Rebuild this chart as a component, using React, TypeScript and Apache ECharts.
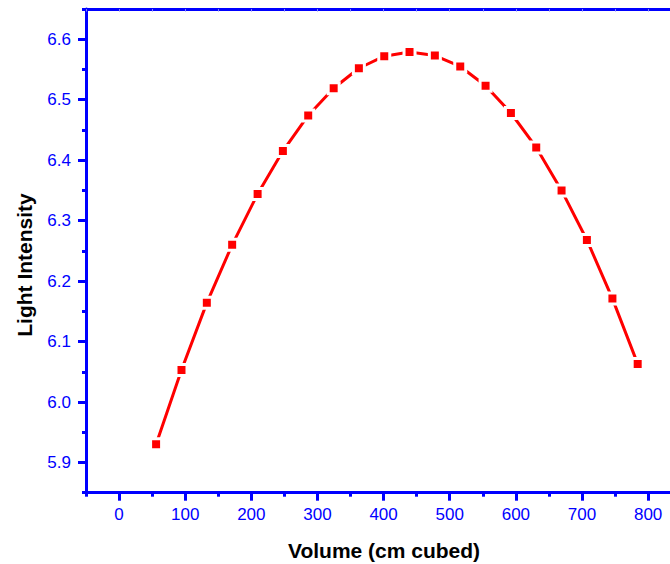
import React, { useEffect, useRef } from "react";
import * as echarts from "echarts";

const volume = [56, 94.4, 132.7, 171, 209.5, 247.7, 286, 324.5, 362.6, 401, 439.2, 477.5, 515.9, 554.2, 592.5, 630.8, 669.1, 707.4, 746, 784.2];
const intensity = [5.930, 6.053, 6.164, 6.260, 6.344, 6.415, 6.474, 6.519, 6.552, 6.572, 6.579, 6.573, 6.555, 6.523, 6.478, 6.421, 6.350, 6.268, 6.171, 6.063];

const xMajorTicks = [0, 100, 200, 300, 400, 500, 600, 700, 800];
const xMinorTicks = [-50, 50, 150, 250, 350, 450, 550, 650, 750, 850];
const yMajorTicks = [5.9, 6.0, 6.1, 6.2, 6.3, 6.4, 6.5, 6.6];
const yMinorTicks = [5.85, 5.95, 6.05, 6.15, 6.25, 6.35, 6.45, 6.55, 6.65];

const xTitle = "Volume (cm cubed)";
const yTitle = "Light Intensity";

const BLUE = "#0000ff";
const RED = "#ff0000";
const FONT = "'Liberation Sans', Arial, Helvetica, sans-serif";

export default function App() {
  const ref = useRef<HTMLDivElement>(null);

  useEffect(() => {
    if (!ref.current) return;
    const chart = echarts.init(ref.current, undefined, { renderer: "svg" });
    const gridLeft = 86;
    const gridTop = 9;
    const gridWidth = 595.2;
    const gridHeight = 483.7;
    const xMin = -50, xMax = 850, yMin = 5.85, yMax = 6.65;

    const option: any = {
      animation: false,
      backgroundColor: "#ffffff",
      grid: {
        left: gridLeft,
        top: gridTop,
        width: gridWidth,
        height: gridHeight,
        containLabel: false,
        outerBoundsMode: "none",
      },
      xAxis: [
        {
          type: "value",
          position: "bottom",
          min: xMin,
          max: xMax,
          axisLine: { show: true, onZero: false, lineStyle: { color: BLUE, width: 3 } },
          axisTick: { show: true, customValues: xMajorTicks, length: 8, lineStyle: { color: BLUE, width: 3 } },
          axisLabel: {
            show: true,
            customValues: xMajorTicks,
            color: BLUE,
            fontFamily: FONT,
            fontSize: 17,
            margin: 13,
            formatter: (v: number) => String(Math.round(v)),
          },
          splitLine: { show: false },
        },
        {
          type: "value",
          position: "bottom",
          min: xMin,
          max: xMax,
          axisLine: { show: false, onZero: false },
          axisTick: { show: true, customValues: xMinorTicks, length: 4, lineStyle: { color: BLUE, width: 3 } },
          axisLabel: { show: false },
          splitLine: { show: false },
        },
        {
          type: "value",
          position: "top",
          min: xMin,
          max: xMax,
          interval: 50,
          axisLine: { show: true, onZero: false, lineStyle: { color: BLUE, width: 3 } },
          axisTick: { show: true, inside: true, length: 2.5, lineStyle: { color: "#8080ff", width: 1 } },
          axisLabel: { show: false },
          splitLine: { show: false },
        },
      ],
      yAxis: [
        {
          type: "value",
          position: "left",
          min: yMin,
          max: yMax,
          axisLine: { show: true, onZero: false, lineStyle: { color: BLUE, width: 3 } },
          axisTick: { show: true, customValues: yMajorTicks, length: 8, lineStyle: { color: BLUE, width: 3 } },
          axisLabel: {
            show: true,
            customValues: yMajorTicks,
            color: BLUE,
            fontFamily: FONT,
            fontSize: 17,
            margin: 15,
            formatter: (v: number) => v.toFixed(1),
          },
          splitLine: { show: false },
        },
        {
          type: "value",
          position: "left",
          min: yMin,
          max: yMax,
          axisLine: { show: false, onZero: false },
          axisTick: { show: true, customValues: yMinorTicks, length: 4, lineStyle: { color: BLUE, width: 3 } },
          axisLabel: { show: false },
          splitLine: { show: false },
        },
      ],
      graphic: [
        {
          type: "text",
          x: 384,
          y: 550,
          style: {
            text: xTitle,
            fill: "#000000",
            font: `bold 21px ${FONT}`,
            align: "center",
            verticalAlign: "middle",
          },
        },
        {
          type: "text",
          x: 24,
          y: 265,
          rotation: Math.PI / 2,
          style: {
            text: yTitle,
            fill: "#000000",
            font: `bold 21px ${FONT}`,
            align: "center",
            verticalAlign: "middle",
          },
        },
      ],
      series: [
        {
          type: "line",
          xAxisIndex: 0,
          yAxisIndex: 0,
          data: volume.map((x, i) => [x, intensity[i]]),
          symbol: "rect",
          symbolSize: 11,
          showSymbol: true,
          lineStyle: { color: RED, width: 3 },
          itemStyle: { color: RED, borderColor: "#ffffff", borderWidth: 3 },
          emphasis: { disabled: true },
        },
      ],
    };

    chart.setOption(option);
    return () => {
      chart.dispose();
    };
  }, []);

  return (
    <div
      ref={ref}
      style={{ position: "fixed", left: 0, top: 0, width: 670, height: 564, background: "#fff" }}
    />
  );
}
